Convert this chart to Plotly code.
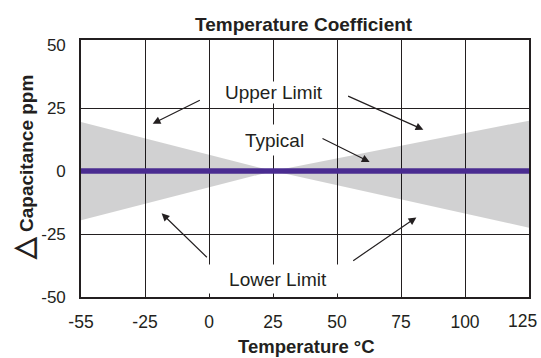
import numpy as np
import plotly.graph_objects as go

# ---- data ----
tick_temps = [-55, -25, 0, 25, 50, 75, 100, 125]
tick_labels = ["-55", "-25", "0", "25", "50", "75", "100", "125"]
band_temps = [-55, 25, 125]
upper_limit = [19.5, 0.0, 20.0]
lower_limit = [-19.5, 0.0, -22.5]
typical_temps = [-55, 125]
typical_vals = [0.0, 0.0]
y_ticks = [-50, -25, 0, 25, 50]
y_tick_labels = ["-50", "-25", "0", "25", "50"]

tick_pos = list(range(len(tick_temps)))


def tx(t):
    return np.interp(t, tick_temps, tick_pos)


ink = "#231F20"
font = "Liberation Sans, Arial, sans-serif"

L, R, T, B = 81, 10, 40, 61
W, H = 541, 358
PW, PH = W - L - R, H - T - B


def px(x):
    return (x - L) / PW


def py(y):
    return (H - B - y) / PH


fig = go.Figure()

bx = list(tx(band_temps)) + list(tx(band_temps))[::-1]
by = upper_limit + lower_limit[::-1]
fig.add_trace(go.Scatter(x=bx, y=by, fill="toself", mode="lines",
                         line=dict(width=0), fillcolor="rgba(0,2,8,0.18)",
                         hoverinfo="skip", showlegend=False))
fig.add_trace(go.Scatter(x=list(tx(typical_temps)), y=typical_vals, mode="lines",
                         line=dict(color="#4A2C91", width=5.5),
                         showlegend=False))

# last tick label is drawn separately (shifted inward as in the reference)
shown_labels = tick_labels[:-1] + [""]
fig.update_xaxes(range=[0, 7], tickvals=tick_pos, ticktext=shown_labels,
                 showgrid=True, gridcolor=ink, gridwidth=1.3,
                 showline=True, linecolor=ink, linewidth=1.6, mirror=True,
                 ticks="", zeroline=False, ticklabelstandoff=8,
                 tickfont=dict(family=font, size=17.5, color=ink))
fig.update_yaxes(range=[-50, 52], tickvals=y_ticks, ticktext=y_tick_labels,
                 showgrid=False, zeroline=False,
                 minor=dict(tickvals=[-25, 0, 25], showgrid=True, gridcolor=ink,
                            gridwidth=1.3, ticks=""),
                 showline=True, linecolor=ink, linewidth=1.6, mirror=True,
                 ticks="", ticklabelstandoff=10,
                 tickfont=dict(family=font, size=17, color=ink))

ann = []
ann.append(dict(text=tick_labels[-1], x=tick_pos[-1], y=py(321), xref="x", yref="paper",
                xanchor="right", yanchor="middle", xshift=10, showarrow=False,
                font=dict(family=font, size=17.5, color=ink)))
ann.append(dict(text="<b>Temperature Coefficient</b>", x=px(305), y=py(25),
                xref="paper", yref="paper", showarrow=False, yanchor="middle",
                font=dict(family=font, size=19, color=ink)))
ann.append(dict(text="<b>Temperature °C</b>", x=px(308), y=py(346),
                xref="paper", yref="paper", showarrow=False, yanchor="middle",
                borderpad=0, font=dict(family=font, size=18.5, color=ink)))
ann.append(dict(text="<b><span style='font-size:28px'>△</span> Capacitance ppm</b>",
                x=px(23), y=py(167),
                xref="paper", yref="paper", showarrow=False, textangle=-90,
                xanchor="center", yanchor="middle",
                font=dict(family=font, size=19, color=ink)))

# labels with white boxes
ann.append(dict(text="Upper Limit", x=3.02, y=31.3, xref="x", yref="y", showarrow=False,
                bgcolor="white", borderpad=0, font=dict(family=font, size=19, color=ink)))
ann.append(dict(text="Typical", x=3.02, y=12.3, xref="x", yref="y", showarrow=False,
                bgcolor="white", height=28, font=dict(family=font, size=19, color=ink)))
ann.append(dict(text="Lower Limit", x=3.08, y=-42.8, xref="x", yref="y", showarrow=False,
                bgcolor="white", height=26, width=146,
                font=dict(family=font, size=19, color=ink)))

arrows = [
    ((1.88, 28.4), (1.12, 18.8)),
    ((4.15, 30.0), (5.35, 16.4)),
    ((3.75, 13.2), (4.51, 3.6)),
    ((1.99, -34.8), (1.26, -16.8)),
    ((4.23, -36.0), (5.24, -18.4)),
]
for (tx0, ty0), (hx, hy) in arrows:
    ann.append(dict(text="", x=hx, y=hy, ax=tx0, ay=ty0, xref="x", yref="y",
                    axref="x", ayref="y", showarrow=True, arrowhead=2,
                    arrowsize=1.3, arrowwidth=1.2, arrowcolor=ink,
                    standoff=0, startstandoff=0))

fig.update_layout(
    width=W, height=H, plot_bgcolor="white", paper_bgcolor="white",
    margin=dict(l=L, r=R, t=T, b=B),
    annotations=ann,
)

fig.write_html("out.html", config={"displayModeBar": False},
               post_script="document.body.style.margin='0';")
